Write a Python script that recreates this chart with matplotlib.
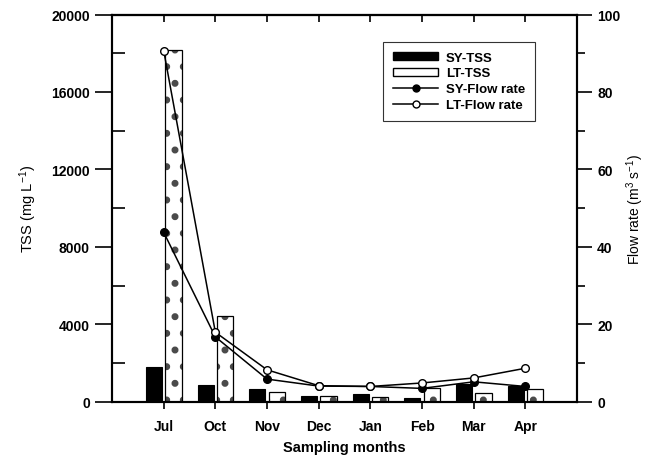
import numpy as np
import matplotlib
matplotlib.use("Agg")
import matplotlib.pyplot as plt
from matplotlib.patches import Patch
from matplotlib.lines import Line2D

plt.rcParams['font.family'] = ['Liberation Sans', 'DejaVu Sans']
plt.rcParams['mathtext.fontset'] = 'custom'
plt.rcParams['mathtext.rm'] = 'Liberation Sans'
plt.rcParams['mathtext.it'] = 'Liberation Sans'
plt.rcParams['hatch.linewidth'] = 2.6

# --- datos por mes de muestreo ---
months = ['Jul', 'Oct', 'Nov', 'Dec', 'Jan', 'Feb', 'Mar', 'Apr']
sy_tss = [1800, 880, 660, 295, 400, 220, 930, 810]
lt_tss = [18150, 4430, 490, 300, 240, 700, 450, 670]
sy_flow = [43.8, 16.8, 5.9, 4.1, 4.0, 3.5, 5.2, 4.0]
lt_flow = [90.7, 18.0, 8.3, 4.2, 4.0, 4.9, 6.2, 8.7]

x = np.arange(len(months))
w = 0.31

fig = plt.figure(figsize=(6.46, 4.6), dpi=100)
ax = fig.add_axes([0.1734, 0.124, 0.7198, 0.8423])
ax2 = ax.twinx()

# barras TSS
ax.bar(x - 0.19, sy_tss, w, color='black', edgecolor='black', lw=0.8, zorder=2)
ax.bar(x + 0.19, lt_tss, w, color='white', edgecolor='#4a4a4a', lw=0, hatch='.', zorder=2)
ax.bar(x + 0.19, lt_tss, w, color='none', edgecolor='black', lw=0.9, zorder=3)

# caudales
ax2.plot(x, sy_flow, '-o', color='black', lw=1.1, ms=5.5, mfc='black', mec='black', zorder=4)
ax2.plot(x, lt_flow, '-o', color='black', lw=1.1, ms=5.5, mfc='white', mec='black', mew=1.0, zorder=5)

ax.set_xlim(-1, 8)
ax.set_ylim(0, 20000)
ax2.set_ylim(0, 100)

tick_font = {'fontweight': 'bold', 'fontsize': 10}
ax.set_xticks(x)
ax.set_xticklabels(months, **tick_font)
ax.set_yticks(np.arange(0, 20001, 4000))
ax.set_yticks(np.arange(2000, 20000, 4000), minor=True)
ax.set_yticklabels([str(v) for v in range(0, 20001, 4000)], **tick_font)
ax2.set_yticks(np.arange(0, 101, 20))
ax2.set_yticks(np.arange(10, 100, 20), minor=True)
ax2.set_yticklabels([str(v) for v in range(0, 101, 20)], **tick_font)

ax.tick_params(axis='x', direction='out', length=5, width=1.2, pad=7)
ax.tick_params(axis='y', which='major', direction='out', length=12, width=1.2, pad=4)
ax.tick_params(axis='y', which='minor', direction='in', length=9, width=1.2)
ax2.tick_params(axis='y', which='major', direction='out', length=10.5, width=1.2, pad=4)
ax2.tick_params(axis='y', which='minor', direction='out', length=5.5, width=1.2)

top = ax.secondary_xaxis('top')
top.set_xticks(x)
top.tick_params(direction='in', length=5, width=1.2, labeltop=False)

for a in (ax, ax2):
    for s in a.spines.values():
        s.set_linewidth(1.5)
top.spines['top'].set_linewidth(1.5)

ax.set_xlabel('Sampling months', fontweight='bold', fontsize=10.5, labelpad=5)
ax.set_ylabel('TSS (mg L$^{-1}$)', fontsize=10.5, labelpad=9)
ax2.set_ylabel('Flow rate (m$^{3}$ s$^{-1}$)', fontsize=10, labelpad=3)

handles = [
    Patch(facecolor='black', edgecolor='black'),
    Patch(facecolor='white', edgecolor='black'),
    Line2D([], [], color='black', lw=1.1, marker='o', ms=5, mfc='black'),
    Line2D([], [], color='black', lw=1.1, marker='o', ms=5, mfc='white'),
]
labels = ['SY-TSS', 'LT-TSS', 'SY-Flow rate', 'LT-Flow rate']
leg = ax2.legend(handles, labels, loc='upper right', bbox_to_anchor=(0.91, 0.93),
                 borderaxespad=0, fancybox=False, framealpha=1, edgecolor='#333333',
                 prop={'weight': 'bold', 'size': 9.5}, handlelength=3.4,
                 handleheight=0.5, labelspacing=0.3, handletextpad=0.6,
                 borderpad=0.75)
leg.get_frame().set_linewidth(0.8)

fig.savefig('out.png', dpi=100)
